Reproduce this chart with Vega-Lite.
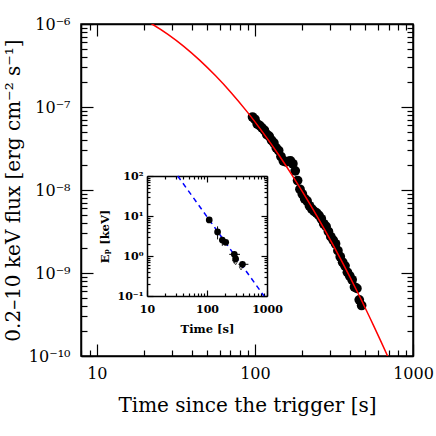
{
  "$schema": "https://vega.github.io/schema/vega-lite/v6.json",
  "width": 332,
  "height": 332,
  "autosize": {"type": "none"},
  "padding": {"left": 81, "top": 24, "right": 23, "bottom": 80},
  "background": "white",
  "config": {
    "view": {"stroke": "black", "strokeWidth": 1.5},
    "font": "DejaVu Serif",
    "axis": {
      "grid": false,
      "domainColor": "black",
      "domainWidth": 1.5,
      "tickColor": "black",
      "tickWidth": 1.2,
      "labelFont": "DejaVu Serif",
      "titleFont": "DejaVu Serif",
      "labelColor": "black",
      "titleColor": "black",
      "titleFontWeight": "normal",
      "labelFlush": false,
      "labelOverlap": false,
      "labelBound": false
    }
  },
  "datasets": {
    "model": [
      {"t": 19.95, "flux": 1.13e-6},
      {"t": 22.34, "flux": 1.0e-6},
      {"t": 28.18, "flux": 7.5e-7},
      {"t": 35.48, "flux": 5.38e-7},
      {"t": 44.67, "flux": 3.67e-7},
      {"t": 56.23, "flux": 2.39e-7},
      {"t": 70.79, "flux": 1.486e-7},
      {"t": 89.13, "flux": 8.79e-8},
      {"t": 112.2, "flux": 4.95e-8},
      {"t": 141.3, "flux": 2.66e-8},
      {"t": 177.8, "flux": 1.365e-8},
      {"t": 223.9, "flux": 6.67e-9},
      {"t": 281.8, "flux": 3.1e-9},
      {"t": 354.8, "flux": 1.377e-9},
      {"t": 446.7, "flux": 5.82e-10},
      {"t": 562.3, "flux": 2.34e-10},
      {"t": 691.8, "flux": 9.93e-11},
      {"t": 794.3, "flux": 5.48e-11}
    ],
    "flux": [
      {"t": 96.6, "flux": 7.57e-8},
      {"t": 100.0, "flux": 7.11e-8},
      {"t": 103.5, "flux": 6.23e-8},
      {"t": 107.2, "flux": 5.98e-8},
      {"t": 110.9, "flux": 5.6e-8},
      {"t": 114.8, "flux": 5.24e-8},
      {"t": 118.9, "flux": 4.67e-8},
      {"t": 123.0, "flux": 4.46e-8},
      {"t": 127.4, "flux": 3.98e-8},
      {"t": 131.8, "flux": 3.7e-8},
      {"t": 136.5, "flux": 3.22e-8},
      {"t": 141.3, "flux": 2.99e-8},
      {"t": 146.2, "flux": 2.53e-8},
      {"t": 151.4, "flux": 2.24e-8},
      {"t": 156.7, "flux": 2.18e-8},
      {"t": 162.2, "flux": 2.21e-8},
      {"t": 167.9, "flux": 2.24e-8},
      {"t": 173.8, "flux": 2.07e-8},
      {"t": 179.9, "flux": 1.7e-8},
      {"t": 186.2, "flux": 1.3e-8},
      {"t": 192.8, "flux": 1.02e-8},
      {"t": 199.5, "flux": 8.95e-9},
      {"t": 206.5, "flux": 7.85e-9},
      {"t": 213.8, "flux": 7.38e-9},
      {"t": 221.3, "flux": 6.46e-9},
      {"t": 229.1, "flux": 5.91e-9},
      {"t": 237.1, "flux": 5.53e-9},
      {"t": 245.5, "flux": 5.29e-9},
      {"t": 254.1, "flux": 4.94e-9},
      {"t": 263.0, "flux": 4.5e-9},
      {"t": 272.3, "flux": 3.92e-9},
      {"t": 281.8, "flux": 3.65e-9},
      {"t": 291.7, "flux": 3.16e-9},
      {"t": 302.0, "flux": 2.74e-9},
      {"t": 312.6, "flux": 2.49e-9},
      {"t": 323.6, "flux": 2.25e-9},
      {"t": 335.0, "flux": 1.86e-9},
      {"t": 346.7, "flux": 1.57e-9},
      {"t": 358.9, "flux": 1.35e-9},
      {"t": 371.5, "flux": 1.22e-9},
      {"t": 384.6, "flux": 1.02e-9},
      {"t": 398.1, "flux": 9.21e-10},
      {"t": 412.1, "flux": 8.28e-10},
      {"t": 426.6, "flux": 6.78e-10},
      {"t": 441.6, "flux": 6.52e-10},
      {"t": 457.1, "flux": 4.75e-10},
      {"t": 473.2, "flux": 4.06e-10}
    ],
    "ep": [
      {"t": 109, "tlo": 104, "thi": 114, "ep": 8.0, "eplo": 7.0, "ephi": 9.0},
      {"t": 150, "tlo": 137, "thi": 163, "ep": 4.0, "eplo": 2.6, "ephi": 5.5},
      {"t": 180, "tlo": 165, "thi": 200, "ep": 2.5, "eplo": 1.8, "ephi": 3.0},
      {"t": 205, "tlo": 190, "thi": 220, "ep": 2.2, "eplo": 1.9, "ephi": 2.5},
      {"t": 285, "tlo": 235, "thi": 355, "ep": 1.1, "eplo": 0.9, "ephi": 1.3},
      {"t": 300, "tlo": 280, "thi": 320, "ep": 0.85, "eplo": 0.7, "ephi": 1.0},
      {"t": 390, "tlo": 335, "thi": 490, "ep": 0.62, "eplo": 0.5, "ephi": 0.75}
    ],
    "eplim": [
      {"t": 285, "ep": 0.72},
      {"t": 300, "ep": 0.66},
      {"t": 369, "ep": 0.49}
    ],
    "epfit": [
      {"t": 32.5, "ep": 100},
      {"t": 891, "ep": 0.1}
    ]
  },
  "layer": [
    {
      "data": {"name": "flux"},
      "mark": {"type": "point", "filled": true, "shape": "circle", "size": 95, "color": "black", "opacity": 1},
      "encoding": {
        "x": {"field": "t", "type": "quantitative", "scale": {"type": "log", "domain": [7.943, 1000]},
          "axis": {"orient": "top", "values": [8,9,10,20,30,40,50,60,70,80,90,100,200,300,400,500,600,700,800,900,1000],
            "tickSize": {"condition": {"test": "indexof([10,100,1000], datum.value) >= 0", "value": -12}, "value": -6},
            "labels": false, "title": null}},
        "y": {"field": "flux", "type": "quantitative", "scale": {"type": "log", "domain": [1e-10, 1e-6]},
          "axis": {"orient": "right", "values": [1e-10,2e-10,3e-10,4e-10,5e-10,6e-10,7e-10,8e-10,9e-10,1e-9,2e-9,3e-9,4e-9,5e-9,6e-9,7e-9,8e-9,9e-9,1e-8,2e-8,3e-8,4e-8,5e-8,6e-8,7e-8,8e-8,9e-8,1e-7,2e-7,3e-7,4e-7,5e-7,6e-7,7e-7,8e-7,9e-7,1e-6],
            "tickSize": {"condition": {"test": "indexof([1e-10,1e-9,1e-8,1e-7,1e-6], datum.value) >= 0", "value": -12}, "value": -6},
            "labels": false, "title": null}}
      }
    },
    {
      "data": {"name": "model"},
      "mark": {"type": "line", "color": "#ff0000", "strokeWidth": 1.5, "clip": true, "interpolate": "monotone"},
      "encoding": {
        "x": {"field": "t", "type": "quantitative", "scale": {"type": "log", "domain": [7.943, 1000]},
          "axis": {"orient": "bottom", "values": [8,9,10,20,30,40,50,60,70,80,90,100,200,300,400,500,600,700,800,900,1000],
            "tickSize": {"condition": {"test": "indexof([10,100,1000], datum.value) >= 0", "value": -12}, "value": -6},
            "labelExpr": "datum.value == 10 ? '10' : datum.value == 100 ? '100' : datum.value == 1000 ? '1000' : ''",
            "labelFontSize": 16, "labelPadding": 21,
            "title": "Time since the trigger [s]", "titleFontSize": 20, "titlePadding": 8}},
        "y": {"field": "flux", "type": "quantitative", "scale": {"type": "log", "domain": [1e-10, 1e-6]},
          "axis": {"orient": "left", "values": [1e-10,2e-10,3e-10,4e-10,5e-10,6e-10,7e-10,8e-10,9e-10,1e-9,2e-9,3e-9,4e-9,5e-9,6e-9,7e-9,8e-9,9e-9,1e-8,2e-8,3e-8,4e-8,5e-8,6e-8,7e-8,8e-8,9e-8,1e-7,2e-7,3e-7,4e-7,5e-7,6e-7,7e-7,8e-7,9e-7,1e-6],
            "tickSize": {"condition": {"test": "indexof([1e-10,1e-9,1e-8,1e-7,1e-6], datum.value) >= 0", "value": -12}, "value": -6},
            "labelExpr": "datum.value == 1e-6 ? '10⁻⁶' : datum.value == 1e-7 ? '10⁻⁷' : datum.value == 1e-8 ? '10⁻⁸' : datum.value == 1e-9 ? '10⁻⁹' : datum.value == 1e-10 ? '10⁻¹⁰' : ''",
            "labelFontSize": 16, "labelPadding": 23,
            "title": "0.2–10 keV flux [erg cm⁻² s⁻¹]", "titleFontSize": 20, "titlePadding": 5}}
      }
    },
    {
      "data": {"name": "epfit"},
      "mark": {"type": "line", "color": "#0000ff", "strokeWidth": 1.5, "strokeDash": [5, 4]},
      "encoding": {
        "x": {"field": "t", "type": "quantitative", "scale": {"type": "log", "domain": [10, 1000], "range": [66, 186]},
          "axis": {"orient": "bottom", "offset": -60, "values": [10,20,30,40,50,60,70,80,90,100,200,300,400,500,600,700,800,900,1000],
            "tickSize": {"condition": {"test": "indexof([10,100,1000], datum.value) >= 0", "value": -6}, "value": -3},
            "labelExpr": "datum.value == 10 ? '10' : datum.value == 100 ? '100' : datum.value == 1000 ? '1000' : ''",
            "labelFontSize": 11, "labelFontWeight": "bold", "labelPadding": 13,
            "title": "Time [s]", "titleFontSize": 11.5, "titleFontWeight": "bold", "titlePadding": 6}},
        "y": {"field": "ep", "type": "quantitative", "scale": {"type": "log", "domain": [0.1, 100], "range": [272, 152]},
          "axis": {"orient": "left", "offset": -66, "values": [0.1,0.2,0.3,0.4,0.5,0.6,0.7,0.8,0.9,1,2,3,4,5,6,7,8,9,10,20,30,40,50,60,70,80,90,100],
            "tickSize": {"condition": {"test": "indexof([0.1,1,10,100], datum.value) >= 0", "value": -6}, "value": -3},
            "labelExpr": "datum.value == 100 ? '10²' : datum.value == 10 ? '10¹' : datum.value == 1 ? '10⁰' : datum.value == 0.1 ? '10⁻¹' : ''",
            "labelFontSize": 11, "labelFontWeight": "bold", "labelPadding": 10,
            "title": "Eₚ [keV]", "titleFontSize": 11.5, "titleFontWeight": "bold", "titlePadding": 7}}
      }
    },
    {
      "data": {"name": "ep"},
      "mark": {"type": "rule", "color": "black", "strokeWidth": 1},
      "encoding": {
        "x": {"field": "tlo", "type": "quantitative", "scale": {"type": "log", "domain": [10, 1000], "range": [66, 186]}, "axis": null},
        "x2": {"field": "thi"},
        "y": {"field": "ep", "type": "quantitative", "scale": {"type": "log", "domain": [0.1, 100], "range": [272, 152]}, "axis": null}
      }
    },
    {
      "data": {"name": "ep"},
      "mark": {"type": "rule", "color": "black", "strokeWidth": 1},
      "encoding": {
        "x": {"field": "t", "type": "quantitative", "scale": {"type": "log", "domain": [10, 1000], "range": [66, 186]}, "axis": null},
        "y": {"field": "eplo", "type": "quantitative", "scale": {"type": "log", "domain": [0.1, 100], "range": [272, 152]}, "axis": null},
        "y2": {"field": "ephi"}
      }
    },
    {
      "data": {"name": "eplim"},
      "mark": {"type": "point", "shape": "triangle-down", "filled": false, "size": 14, "color": "black", "strokeWidth": 1},
      "encoding": {
        "x": {"field": "t", "type": "quantitative", "scale": {"type": "log", "domain": [10, 1000], "range": [66, 186]}, "axis": null},
        "y": {"field": "ep", "type": "quantitative", "scale": {"type": "log", "domain": [0.1, 100], "range": [272, 152]}, "axis": null}
      }
    },
    {
      "data": {"name": "ep"},
      "mark": {"type": "point", "filled": true, "shape": "circle", "size": 45, "color": "black", "opacity": 1},
      "encoding": {
        "x": {"field": "t", "type": "quantitative", "scale": {"type": "log", "domain": [10, 1000], "range": [66, 186]},
          "axis": {"orient": "top", "offset": -152, "values": [10,20,30,40,50,60,70,80,90,100,200,300,400,500,600,700,800,900,1000],
            "tickSize": {"condition": {"test": "indexof([10,100,1000], datum.value) >= 0", "value": -6}, "value": -3},
            "labels": false, "title": null}},
        "y": {"field": "ep", "type": "quantitative", "scale": {"type": "log", "domain": [0.1, 100], "range": [272, 152]},
          "axis": {"orient": "right", "offset": -146, "values": [0.1,0.2,0.3,0.4,0.5,0.6,0.7,0.8,0.9,1,2,3,4,5,6,7,8,9,10,20,30,40,50,60,70,80,90,100],
            "tickSize": {"condition": {"test": "indexof([0.1,1,10,100], datum.value) >= 0", "value": -6}, "value": -3},
            "labels": false, "title": null}}
      }
    }
  ],
  "resolve": {"scale": {"x": "independent", "y": "independent"}}
}
